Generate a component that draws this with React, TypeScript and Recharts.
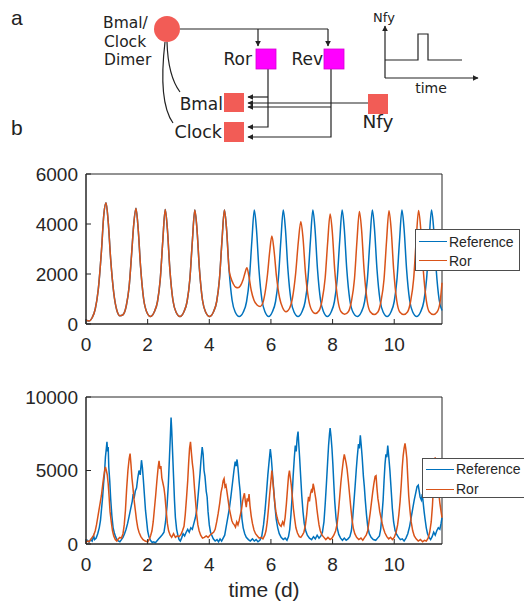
import { LineChart, Line, XAxis, YAxis, Legend, ReferenceArea } from "recharts";

const AXIS = "#262626";
const BLUE = "#0072BD";
const ORANGE = "#D95319";
const FONT = '"Liberation Sans", Arial, sans-serif';
const DIAG_FONT = '"DejaVu Sans", sans-serif';

const X_MAX = 11.55;
const xTicks = [0, 2, 4, 6, 8, 10];
const odeYTicks = [0, 2000, 4000, 6000];
const ssaYTicks = [0, 5000, 10000];

// deterministic model: both traces agree until the perturbation (~4.6 d)
const odeShared: [number, number][] = [
  [0, 150], [0.1, 120], [0.2, 250], [0.3, 600], [0.4, 1400], [0.5, 2900], [0.58, 4400], [0.65, 4850],
  [0.72, 4100], [0.8, 2600], [0.9, 1250], [1.0, 550], [1.1, 330], [1.2, 370], [1.31, 750], [1.4, 1500],
  [1.48, 2800], [1.55, 4000], [1.62, 4630], [1.69, 3850], [1.77, 2300], [1.87, 1000], [1.97, 480], [2.09, 300],
  [2.21, 470], [2.32, 900], [2.41, 1800], [2.49, 3300], [2.57, 4580], [2.64, 3800], [2.72, 2200], [2.82, 950],
  [2.92, 480], [3.05, 300], [3.17, 470], [3.28, 900], [3.37, 1800], [3.45, 3300], [3.53, 4560], [3.6, 3800],
  [3.68, 2200], [3.78, 950], [3.88, 480], [4.01, 300], [4.13, 470], [4.24, 900], [4.33, 1800], [4.41, 3300],
  [4.49, 4560], [4.56, 3800], [4.64, 2200],
];

const odeReferenceTail: [number, number][] = [
  [4.74, 950], [4.84, 480], [4.97, 300], [5.1, 470], [5.21, 900], [5.3, 1800], [5.38, 3300], [5.46, 4560],
  [5.53, 3800], [5.61, 2200], [5.71, 950], [5.81, 480], [5.93, 300], [6.04, 470], [6.15, 900], [6.24, 1800],
  [6.32, 3300], [6.4, 4560], [6.47, 3800], [6.55, 2200], [6.65, 950], [6.75, 480], [6.88, 300], [7.0, 470],
  [7.11, 900], [7.2, 1800], [7.28, 3300], [7.36, 4560], [7.43, 3800], [7.51, 2200], [7.61, 950], [7.71, 480],
  [7.83, 300], [7.95, 470], [8.06, 900], [8.15, 1800], [8.23, 3300], [8.31, 4560], [8.38, 3800], [8.46, 2200],
  [8.56, 950], [8.66, 480], [8.8, 300], [8.93, 470], [9.04, 900], [9.13, 1800], [9.21, 3300], [9.29, 4560],
  [9.36, 3800], [9.44, 2200], [9.54, 950], [9.64, 480], [9.77, 300], [9.89, 470], [10.0, 900], [10.09, 1800],
  [10.17, 3300], [10.25, 4560], [10.32, 3800], [10.4, 2200], [10.5, 950], [10.6, 480], [10.73, 300],
  [10.85, 470], [10.96, 900], [11.05, 1800], [11.13, 3300], [11.21, 4560], [11.28, 3800], [11.36, 2200],
  [11.46, 950], [11.55, 540],
];

const odeRorTail: [number, number][] = [
  [4.7, 1850], [4.78, 1600], [4.86, 1470], [4.93, 1450], [5.01, 1530], [5.09, 1750], [5.16, 2050], [5.22, 2250],
  [5.28, 1950], [5.36, 1350], [5.45, 950], [5.55, 760], [5.65, 700], [5.73, 820], [5.81, 1250], [5.89, 2000],
  [5.96, 2900], [6.03, 3520], [6.1, 2950], [6.18, 1900], [6.28, 1050], [6.38, 650], [6.49, 490], [6.6, 620],
  [6.7, 1050], [6.8, 2000], [6.89, 3300], [6.97, 4100], [7.04, 3450], [7.12, 2050], [7.22, 1000], [7.32, 560],
  [7.44, 420], [7.56, 530], [7.66, 950], [7.76, 1850], [7.84, 3250], [7.92, 4400], [7.99, 3700], [8.07, 2150],
  [8.17, 970], [8.27, 500], [8.39, 390], [8.51, 490], [8.61, 900], [8.71, 1800], [8.79, 3300], [8.87, 4500],
  [8.94, 3780], [9.02, 2200], [9.12, 950], [9.22, 490], [9.35, 380], [9.47, 480], [9.57, 900], [9.67, 1800],
  [9.75, 3300], [9.83, 4530], [9.9, 3800], [9.98, 2200], [10.08, 950], [10.18, 480], [10.31, 380],
  [10.43, 480], [10.53, 900], [10.63, 1800], [10.71, 3300], [10.79, 4540], [10.86, 3800], [10.94, 2200],
  [11.04, 950], [11.14, 480], [11.27, 380], [11.39, 480], [11.49, 900], [11.55, 1650],
];

// stochastic simulation
const ssaReference: [number, number][] = [
  [0, 150], [0.05, 250], [0.1, 120], [0.15, 300], [0.2, 200], [0.25, 550], [0.28, 300], [0.33, 400], [0.38, 700],
  [0.43, 1100], [0.47, 1600], [0.5, 2300], [0.54, 3200], [0.57, 4100], [0.6, 4800], [0.63, 5900], [0.66, 6500],
  [0.68, 6950], [0.7, 6300], [0.72, 6600], [0.74, 5200], [0.77, 4300], [0.8, 3100], [0.84, 1900], [0.88, 1100],
  [0.92, 750], [0.96, 500], [1.0, 300], [1.05, 220], [1.1, 150], [1.15, 300], [1.2, 450], [1.25, 700], [1.3, 1000],
  [1.35, 1400], [1.4, 1900], [1.45, 2400], [1.5, 2900], [1.53, 3400], [1.56, 3100], [1.6, 3600], [1.64, 3800],
  [1.68, 4500], [1.72, 5000], [1.76, 4700], [1.8, 5700], [1.83, 5200], [1.86, 4400], [1.9, 3200], [1.93, 2300],
  [1.97, 1500], [2.0, 900], [2.04, 500], [2.09, 250], [2.15, 100], [2.2, 150], [2.25, 80], [2.3, 200], [2.36, 350],
  [2.42, 500], [2.48, 650], [2.53, 800], [2.58, 1500], [2.63, 2600], [2.67, 4000], [2.71, 6000], [2.74, 7500],
  [2.76, 8600], [2.78, 7800], [2.81, 6200], [2.84, 4600], [2.87, 3000], [2.9, 1800], [2.94, 1000], [2.98, 600],
  [3.02, 300], [3.06, 200], [3.1, 400], [3.15, 700], [3.2, 550], [3.25, 800], [3.3, 1000], [3.35, 800],
  [3.4, 1100], [3.45, 1000], [3.5, 1400], [3.55, 1800], [3.6, 2400], [3.65, 3600], [3.7, 4800], [3.73, 5700],
  [3.77, 6600], [3.8, 6100], [3.83, 5000], [3.86, 4600], [3.9, 3600], [3.93, 3200], [3.96, 2200], [4.0, 1300],
  [4.04, 800], [4.08, 600], [4.13, 350], [4.19, 200], [4.25, 300], [4.3, 150], [4.35, 350], [4.4, 200],
  [4.45, 400], [4.5, 600], [4.55, 1200], [4.6, 1800], [4.65, 2400], [4.7, 3200], [4.75, 4100], [4.8, 5000],
  [4.84, 5600], [4.87, 5300], [4.9, 5750], [4.93, 5200], [4.97, 4200], [5.0, 3600], [5.03, 2600], [5.06, 1700],
  [5.1, 1100], [5.15, 700], [5.2, 450], [5.27, 300], [5.33, 200], [5.4, 350], [5.46, 200], [5.52, 300],
  [5.58, 150], [5.64, 250], [5.7, 500], [5.76, 1300], [5.81, 2300], [5.86, 3600], [5.9, 4700], [5.94, 5600],
  [5.98, 6450], [6.01, 5900], [6.05, 4800], [6.09, 3700], [6.13, 2600], [6.17, 1700], [6.22, 1100], [6.27, 700],
  [6.33, 450], [6.4, 300], [6.46, 400], [6.52, 250], [6.57, 500], [6.61, 1000], [6.65, 2000], [6.69, 3300],
  [6.72, 4600], [6.76, 5900], [6.79, 6700], [6.82, 6300], [6.85, 7200], [6.88, 7650], [6.9, 6900], [6.93, 5900],
  [6.97, 4400], [7.0, 3300], [7.04, 2200], [7.08, 1400], [7.13, 900], [7.18, 600], [7.25, 400], [7.32, 300],
  [7.38, 500], [7.44, 350], [7.5, 600], [7.56, 400], [7.62, 550], [7.67, 800], [7.72, 1500], [7.76, 2700],
  [7.8, 4100], [7.84, 5600], [7.87, 6700], [7.9, 7500], [7.92, 7880], [7.95, 7300], [7.98, 6500], [8.01, 5400],
  [8.04, 4100], [8.07, 2900], [8.11, 1800], [8.15, 1100], [8.2, 650], [8.26, 400], [8.32, 250], [8.38, 400],
  [8.44, 250], [8.5, 350], [8.56, 500], [8.61, 900], [8.65, 1700], [8.69, 2800], [8.73, 3900], [8.77, 5100],
  [8.8, 5900], [8.84, 6800], [8.87, 6500], [8.9, 7400], [8.93, 6700], [8.96, 5900], [9.0, 4600], [9.03, 3900],
  [9.06, 3000], [9.1, 2000], [9.14, 1200], [9.19, 700], [9.25, 450], [9.32, 300], [9.4, 250], [9.46, 400],
  [9.52, 550], [9.56, 1000], [9.6, 1900], [9.64, 3000], [9.67, 4300], [9.7, 5400], [9.73, 6100], [9.76, 5900],
  [9.79, 6700], [9.82, 6000], [9.86, 5000], [9.9, 3700], [9.94, 2400], [9.98, 1500], [10.03, 900], [10.08, 650],
  [10.14, 450], [10.2, 300], [10.26, 350], [10.32, 200], [10.38, 400], [10.44, 700], [10.5, 1200], [10.55, 1800],
  [10.6, 2400], [10.65, 3000], [10.7, 3500], [10.74, 3900], [10.78, 4000], [10.81, 3600], [10.84, 3200],
  [10.88, 3000], [10.91, 3400], [10.94, 2800], [10.97, 2200], [11.0, 1700], [11.04, 1100], [11.08, 700],
  [11.13, 450], [11.18, 300], [11.23, 500], [11.28, 800], [11.33, 600], [11.38, 900], [11.43, 1100],
  [11.48, 1000], [11.52, 1400], [11.55, 1800],
];

const ssaRor: [number, number][] = [
  [0, 100], [0.05, 200], [0.1, 150], [0.15, 300], [0.2, 450], [0.25, 600], [0.3, 900], [0.34, 1300], [0.38, 1800],
  [0.42, 2300], [0.46, 2800], [0.5, 3300], [0.54, 4000], [0.57, 4500], [0.6, 4900], [0.63, 5250], [0.66, 5000],
  [0.69, 4700], [0.72, 4100], [0.75, 3200], [0.78, 2200], [0.82, 1500], [0.86, 900], [0.9, 550], [0.95, 300],
  [1.0, 200], [1.05, 350], [1.1, 450], [1.15, 400], [1.2, 700], [1.24, 1300], [1.28, 2300], [1.32, 3800],
  [1.36, 5000], [1.4, 5800], [1.43, 6150], [1.46, 5400], [1.49, 4500], [1.52, 3900], [1.56, 3000], [1.6, 2300],
  [1.64, 1600], [1.68, 1100], [1.72, 800], [1.78, 500], [1.85, 300], [1.92, 200], [2.0, 150], [2.06, 350],
  [2.1, 600], [2.14, 900], [2.18, 1500], [2.22, 2400], [2.26, 3300], [2.3, 4300], [2.34, 5200], [2.37, 5650],
  [2.4, 5100], [2.43, 5300], [2.46, 4500], [2.5, 4100], [2.53, 3800], [2.56, 3300], [2.6, 2300], [2.64, 1400],
  [2.68, 900], [2.73, 600], [2.78, 450], [2.84, 700], [2.9, 450], [2.96, 550], [3.02, 500], [3.08, 650],
  [3.13, 900], [3.18, 1200], [3.22, 2000], [3.26, 3100], [3.3, 4300], [3.33, 5500], [3.36, 6500], [3.39, 6950],
  [3.42, 6200], [3.45, 5500], [3.48, 5000], [3.52, 3800], [3.55, 3000], [3.59, 2000], [3.63, 1300], [3.67, 900],
  [3.72, 600], [3.78, 400], [3.84, 450], [3.9, 550], [3.96, 450], [4.02, 600], [4.08, 700], [4.14, 800],
  [4.19, 1000], [4.24, 1500], [4.29, 2100], [4.34, 2800], [4.38, 3500], [4.42, 3900], [4.45, 4300], [4.48, 4450],
  [4.51, 3900], [4.54, 4000], [4.57, 3600], [4.61, 3000], [4.65, 2400], [4.69, 2000], [4.73, 1600], [4.77, 1400],
  [4.81, 1300], [4.85, 1150], [4.89, 1500], [4.93, 1300], [4.97, 1600], [5.01, 2000], [5.05, 2400], [5.08, 2900],
  [5.11, 3200], [5.14, 3450], [5.17, 2900], [5.2, 2500], [5.23, 3100], [5.26, 2900], [5.29, 3400], [5.32, 2600],
  [5.36, 1900], [5.4, 1400], [5.45, 950], [5.5, 700], [5.56, 550], [5.62, 400], [5.68, 450], [5.74, 350],
  [5.8, 600], [5.84, 900], [5.88, 1500], [5.92, 2400], [5.96, 3400], [6.0, 4300], [6.03, 5000], [6.06, 4300],
  [6.09, 3600], [6.12, 2900], [6.16, 2200], [6.2, 1800], [6.24, 1500], [6.28, 1300], [6.33, 1200], [6.38, 1500],
  [6.42, 1300], [6.46, 1800], [6.5, 2700], [6.54, 3800], [6.57, 4600], [6.6, 5000], [6.63, 4500], [6.66, 4000],
  [6.69, 3300], [6.73, 2400], [6.77, 1700], [6.81, 1100], [6.86, 750], [6.92, 500], [6.97, 450], [7.02, 600],
  [7.07, 800], [7.12, 1300], [7.16, 2000], [7.19, 2700], [7.22, 3200], [7.25, 2900], [7.28, 3400], [7.31, 3650],
  [7.34, 3500], [7.37, 4100], [7.4, 3800], [7.43, 3400], [7.46, 3000], [7.49, 2400], [7.52, 1900], [7.56, 1300],
  [7.6, 900], [7.66, 600], [7.72, 450], [7.78, 300], [7.85, 450], [7.92, 300], [7.98, 400], [8.04, 600],
  [8.1, 900], [8.15, 1400], [8.19, 2200], [8.23, 3200], [8.27, 4200], [8.31, 5000], [8.35, 5700], [8.38, 6100],
  [8.41, 5800], [8.44, 5500], [8.47, 5100], [8.51, 4300], [8.55, 3400], [8.59, 2500], [8.63, 1700], [8.67, 1100],
  [8.72, 700], [8.78, 450], [8.85, 300], [8.92, 400], [8.98, 250], [9.04, 450], [9.09, 600], [9.14, 900],
  [9.18, 1500], [9.22, 2100], [9.26, 2800], [9.3, 3500], [9.34, 4100], [9.38, 4600], [9.41, 4650], [9.44, 3800],
  [9.47, 3100], [9.5, 2700], [9.53, 2200], [9.57, 1800], [9.61, 1400], [9.65, 1050], [9.7, 750], [9.76, 500],
  [9.82, 350], [9.88, 450], [9.94, 300], [10.0, 450], [10.06, 800], [10.11, 1300], [10.15, 2000], [10.19, 2900],
  [10.23, 4100], [10.26, 5200], [10.29, 6000], [10.32, 6500], [10.35, 6850], [10.38, 6400], [10.41, 5800],
  [10.44, 4500], [10.47, 3300], [10.51, 2300], [10.55, 1500], [10.6, 900], [10.65, 550], [10.71, 350],
  [10.78, 200], [10.85, 300], [10.92, 150], [10.98, 250], [11.04, 200], [11.1, 400], [11.15, 800], [11.2, 1500],
  [11.24, 2600], [11.27, 3800], [11.3, 5200], [11.33, 5900], [11.36, 5500], [11.4, 4600], [11.44, 3600],
  [11.48, 2800], [11.52, 2200], [11.55, 1800],
];

const toPoints = (rows: [number, number][]) => rows.map(([t, v]) => ({ t, v }));

type LegendBoxProps = { padTop: number; rowH: number; lineW: number; payload?: any[] };

function LegendBox({ padTop, rowH, lineW, payload }: LegendBoxProps) {
  return (
    <div
      style={{
        boxSizing: "border-box",
        width: "100%",
        height: "100%",
        border: "1px solid #4d4d4d",
        background: "#fff",
        paddingTop: padTop,
        paddingLeft: 3,
        fontFamily: FONT,
        fontSize: 14,
        color: AXIS,
      }}
    >
      {(payload ?? []).map((p) => (
        <div key={p.value} style={{ display: "flex", alignItems: "center", height: rowH }}>
          <span style={{ width: lineW, borderTop: `1.5px solid ${p.color}`, marginRight: 2 }} />
          <span>{p.value}</span>
        </div>
      ))}
    </div>
  );
}

type PanelProps = {
  top: number;
  height: number;
  marginTop: number;
  xAxisHeight: number;
  yMax: number;
  yTicks: number[];
  reference: { t: number; v: number }[];
  ror: { t: number; v: number }[];
  curve: "monotone" | "linear";
  legend: { left: number; top: number; width: number; height: number; padTop: number; rowH: number; lineW: number };
};

function Panel({ top, height, marginTop, xAxisHeight, yMax, yTicks, reference, ror, curve, legend }: PanelProps) {
  // tick labels take their font from this wrapper; the plot frame is a ReferenceArea
  // because the axis lines did not show up with 19px tick labels
  return (
    <div style={{ position: "absolute", left: 0, top, fontFamily: FONT, fontSize: 19 }}>
      <LineChart width={524} height={height} margin={{ top: marginTop, right: 82, bottom: 0, left: 6 }}>
        <XAxis
          xAxisId="b"
          type="number"
          dataKey="t"
          domain={[0, X_MAX]}
          ticks={xTicks}
          interval={0}
          height={xAxisHeight}
          tickSize={-5}
          tickMargin={19}
          stroke={AXIS}
        />
        <XAxis
          xAxisId="t"
          orientation="top"
          type="number"
          dataKey="t"
          domain={[0, X_MAX]}
          ticks={xTicks}
          interval={0}
          height={0}
          tick={false}
          tickSize={-5}
          stroke={AXIS}
        />
        <YAxis
          yAxisId="l"
          type="number"
          domain={[0, yMax]}
          ticks={yTicks}
          interval={0}
          width={80}
          tickSize={-5}
          tickMargin={13}
          stroke={AXIS}
        />
        <YAxis
          yAxisId="r"
          orientation="right"
          type="number"
          domain={[0, yMax]}
          ticks={yTicks}
          interval={0}
          width={0}
          tick={false}
          tickSize={-5}
          stroke={AXIS}
        />
        <ReferenceArea
          xAxisId="b"
          yAxisId="l"
          x1={0}
          x2={X_MAX}
          y1={0}
          y2={yMax}
          fill="none"
          fillOpacity={0}
          stroke={AXIS}
          strokeWidth={1}
          strokeOpacity={1}
          ifOverflow="visible"
        />
        <Line
          xAxisId="b"
          yAxisId="l"
          data={reference}
          dataKey="v"
          name="Reference"
          type={curve}
          stroke={BLUE}
          strokeWidth={1.5}
          dot={false}
          legendType="plainline"
          isAnimationActive={false}
        />
        <Line
          xAxisId="t"
          yAxisId="r"
          data={ror}
          dataKey="v"
          name="Ror"
          type={curve}
          stroke={ORANGE}
          strokeWidth={1.5}
          dot={false}
          legendType="plainline"
          isAnimationActive={false}
        />
        <Legend
          layout="vertical"
          align="center"
          verticalAlign="middle"
          wrapperStyle={{ left: legend.left, top: legend.top, width: legend.width, height: legend.height }}
          content={(props: any) => (
            <LegendBox padTop={legend.padTop} rowH={legend.rowH} lineW={legend.lineW} payload={props.payload} />
          )}
        />
      </LineChart>
    </div>
  );
}

function Diagram() {
  const ink = "#222";
  const red = "#f25c56";
  const magenta = "#ff00ff";
  return (
    <svg width={524} height={150} style={{ position: "absolute", left: 0, top: 0 }}>
      <defs>
        <marker id="ah" viewBox="0 0 10 10" refX="9" refY="5" markerWidth="6" markerHeight="6" markerUnits="userSpaceOnUse" orient="auto">
          <path d="M0,0 L10,5 L0,10 z" fill={ink} />
        </marker>
      </defs>
      <text x={11} y={25} fontFamily={FONT} fontSize={21} fill={ink}>a</text>
      <text x={11} y={135} fontFamily={FONT} fontSize={21} fill={ink}>b</text>

      <g fontFamily={DIAG_FONT} fill={ink}>
        <text x={103} y={28} fontSize={15.5}>Bmal/</text>
        <text x={104} y={47} fontSize={15.5}>Clock</text>
        <text x={104} y={65} fontSize={15.5}>Dimer</text>
        <text x={252} y={65} fontSize={17} textAnchor="end">Ror</text>
        <text x={323} y={65} fontSize={17} textAnchor="end">Rev</text>
        <text x={223} y={110} fontSize={17} textAnchor="end">Bmal</text>
        <text x={222} y={138} fontSize={17.5} textAnchor="end">Clock</text>
        <text x={378} y={128} fontSize={18.5} textAnchor="middle">Nfy</text>
        <text x={384} y={22} fontSize={13} textAnchor="middle">Nfy</text>
        <text x={431} y={93} fontSize={14} textAnchor="middle">time</text>
      </g>

      <g stroke={ink} strokeWidth={1.2} fill="none">
        <path d="M180,29 H328" />
        <path d="M258,29 V46" markerEnd="url(#ah)" />
        <path d="M328,29 V46" markerEnd="url(#ah)" />
        <path d="M268,69 V127 H248" markerEnd="url(#ah)" />
        <path d="M268,97 H248" markerEnd="url(#ah)" />
        <path d="M331,69 V137 H248" markerEnd="url(#ah)" />
        <path d="M331,107 H248" markerEnd="url(#ah)" />
        <path d="M368,103 H248" markerEnd="url(#ah)" />
        <path d="M167,42 Q168,76 180,92" />
        <path d="M165,42 Q158,102 173,123" />
        <path d="M385,78 V26" markerEnd="url(#ah)" />
        <path d="M385,78 H478" markerEnd="url(#ah)" />
        <path d="M385,60 H418 V34 H428 V60 H462" />
      </g>

      <circle cx={167} cy={29} r={13} fill={red} />
      <rect x={256} y={49} width={20} height={20} fill={magenta} stroke="#d400d4" strokeWidth={0.8} />
      <rect x={324} y={49} width={20} height={20} fill={magenta} stroke="#d400d4" strokeWidth={0.8} />
      <rect x={224} y={93} width={20} height={19} fill={red} />
      <rect x={224} y={122} width={20} height={20} fill={red} />
      <rect x={368} y={94} width={20} height={20} fill={red} />
    </svg>
  );
}

export default function App() {
  return (
    <div
      style={{
        position: "absolute",
        left: 0,
        top: 0,
        width: 524,
        height: 610,
        overflow: "hidden",
        background: "#fff",
      }}
    >
      <Diagram />
      <Panel
        top={160}
        height={200}
        marginTop={14}
        xAxisHeight={36}
        yMax={6000}
        yTicks={odeYTicks}
        reference={toPoints([...odeShared, ...odeReferenceTail])}
        ror={toPoints([...odeShared, ...odeRorTail])}
        curve="monotone"
        legend={{ left: 415, top: 69, width: 105, height: 42, padTop: 2, rowH: 19, lineW: 28 }}
      />
      <Panel
        top={380}
        height={230}
        marginTop={17}
        xAxisHeight={66}
        yMax={10000}
        yTicks={ssaYTicks}
        reference={toPoints(ssaReference)}
        ror={toPoints(ssaRor)}
        curve="linear"
        legend={{ left: 422, top: 78, width: 115, height: 40, padTop: 0, rowH: 20, lineW: 28 }}
      />
      <div
        style={{
          position: "absolute",
          left: 164,
          top: 579,
          width: 200,
          textAlign: "center",
          fontFamily: FONT,
          fontSize: 21,
          lineHeight: "22px",
          color: AXIS,
        }}
      >
        time (d)
      </div>
    </div>
  );
}
